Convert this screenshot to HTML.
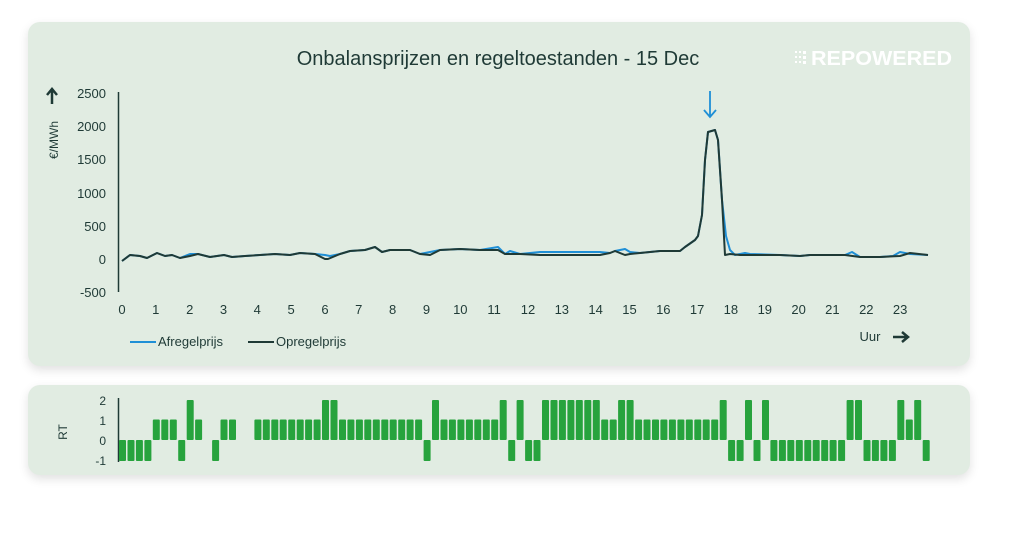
<!DOCTYPE html>
<html><head><meta charset="utf-8">
<style>
body{margin:0;width:1024px;height:534px;background:#fff;overflow:hidden;font-family:"Liberation Sans",sans-serif}
.card{position:absolute;left:28px;width:942px;background:#e1ece2;border-radius:12px;box-shadow:0 4px 10px rgba(0,0,0,0.12)}
</style></head><body>
<div class="card" style="top:22px;height:344px"></div>
<div class="card" style="top:385px;height:90px"></div>
<svg width="1024" height="534" style="position:absolute;left:0;top:0" font-family="Liberation Sans, sans-serif">
<text x="498" y="65" text-anchor="middle" font-size="20" fill="#1f3a36">Onbalansprijzen en regeltoestanden - 15 Dec</text>
<g fill="#fff"><rect x="795" y="51" width="2" height="2"/><rect x="795" y="56" width="2" height="2"/><rect x="795" y="61" width="2" height="2"/><rect x="799" y="51" width="2" height="2"/><rect x="799" y="56" width="2" height="2"/><rect x="799" y="61" width="2" height="2"/><rect x="803" y="51" width="3" height="3"/><rect x="803" y="56" width="3" height="3"/><rect x="803" y="61" width="3" height="3"/></g>
<text x="811" y="65" font-size="20" font-weight="bold" fill="#fff" textLength="141" lengthAdjust="spacingAndGlyphs">REPOWERED</text>
<line x1="118.5" y1="92" x2="118.5" y2="292" stroke="#1f3a36" stroke-width="1.5"/>
<g font-size="13" fill="#1f3a36" text-anchor="end">
<text x="106" y="98">2500</text><text x="106" y="131">2000</text><text x="106" y="164">1500</text><text x="106" y="198">1000</text><text x="106" y="231">500</text><text x="106" y="264">0</text><text x="106" y="297">-500</text></g>
<path d="M52 104 L52 90 M47 95 L52 89 L57 95" stroke="#1f3a36" stroke-width="2.5" fill="none"/>
<text transform="translate(58,140) rotate(-90)" text-anchor="middle" font-size="12" fill="#1f3a36">€/MWh</text>
<g font-size="13" fill="#1f3a36" text-anchor="middle" id="xt"></g>
<text x="870" y="341" text-anchor="middle" font-size="13" fill="#1f3a36">Uur</text>
<path d="M893 337 L907 337 M902 332 L908 337 L902 342" stroke="#1f3a36" stroke-width="2.5" fill="none"/>
<line x1="130" y1="342" x2="156" y2="342" stroke="#1f8fd6" stroke-width="2"/>
<text x="158" y="346" font-size="13" fill="#1f3a36">Afregelprijs</text>
<line x1="248" y1="342" x2="274" y2="342" stroke="#1f3a36" stroke-width="2"/>
<text x="276" y="346" font-size="13" fill="#1f3a36">Opregelprijs</text>
<path d="M710 91 L710 117 M704 110 L710 117 L716 110" stroke="#1f8fd6" stroke-width="1.8" fill="none"/>
<polyline fill="none" stroke="#1f8fd6" stroke-width="2" stroke-linejoin="round" points="122,261 130,255 140,256 147,258 157,253 165,256 172,255 180,258 190,254 198,254 210,257 224,255 232,257 245,256 260,255 275,254 290,255 300,253 315,254 325,255 330,256 340,254 350,251 365,250 375,247 382,252 390,250 410,250 420,254 430,252 440,250 460,249 480,250 498,247 505,254 510,251 520,254 540,252 600,252 610,253 615,251 625,249 630,252 640,253 660,251 680,251 685,247 695,240 698,236 702,215 705,160 708,132 715,130 718,140 722,200 726,236 730,250 735,255 745,253 750,254 780,255 800,256 810,255 845,255 852,252 860,257 880,257 893,256 900,252 910,254 928,255"/>
<polyline fill="none" stroke="#1f3a36" stroke-width="2" stroke-linejoin="round" points="122,261 130,255 140,256 147,258 157,253 165,256 172,255 180,258 190,256 198,254 210,257 224,255 232,257 245,256 260,255 275,254 290,255 300,253 315,254 325,259 328,259 340,254 350,251 365,250 375,247 382,252 390,250 410,250 420,254 430,255 440,250 460,249 480,250 498,250 505,254 520,254 540,255 600,255 610,253 615,251 625,255 630,254 640,253 660,251 680,251 685,247 695,240 698,236 702,215 705,160 708,132 715,130 718,140 722,200 725,255 730,254 740,255 780,255 800,256 810,255 845,255 860,257 880,257 900,256 910,253 928,255"/>
<line x1="118.5" y1="398" x2="118.5" y2="462" stroke="#1f3a36" stroke-width="1.5"/>
<g font-size="12" fill="#1f3a36" text-anchor="end">
<text x="106" y="405">2</text><text x="106" y="425">1</text><text x="106" y="445">0</text><text x="106" y="465">-1</text></g>
<text transform="translate(67,432) rotate(-90)" text-anchor="middle" font-size="12" fill="#1f3a36">RT</text>
<g id="bars" fill="#27a33d"></g>
</svg>
<script>
var xt=document.getElementById('xt'),s='';
for(var h=0;h<24;h++)s+='<text x="'+(122+h*33.83).toFixed(1)+'" y="314">'+h+'</text>';
xt.innerHTML=s;
var v=[-1,-1,-1,-1,1,1,1,-1,2,1,0,-1,1,1,0,0,1,1,1,1,1,1,1,1,2,2,1,1,1,1,1,1,1,1,1,1,-1,2,1,1,1,1,1,1,1,2,-1,2,-1,-1,2,2,2,2,2,2,2,1,1,2,2,1,1,1,1,1,1,1,1,1,1,2,-1,-1,2,-1,2,-1,-1,-1,-1,-1,-1,-1,-1,-1,2,2,-1,-1,-1,-1,2,1,2,-1];
var Y={2:400,1:419.5,0:440,'-1':461},b='';
for(var i=0;i<96;i++){if(!v[i])continue;var x=119+8.46*i,y1=Math.min(Y[v[i]],440),y2=Math.max(Y[v[i]],440);
b+='<rect x="'+x.toFixed(1)+'" y="'+y1+'" width="7" height="'+(y2-y1)+'" rx="1"/>';}
document.getElementById('bars').innerHTML=b;
</script>
</body></html>
